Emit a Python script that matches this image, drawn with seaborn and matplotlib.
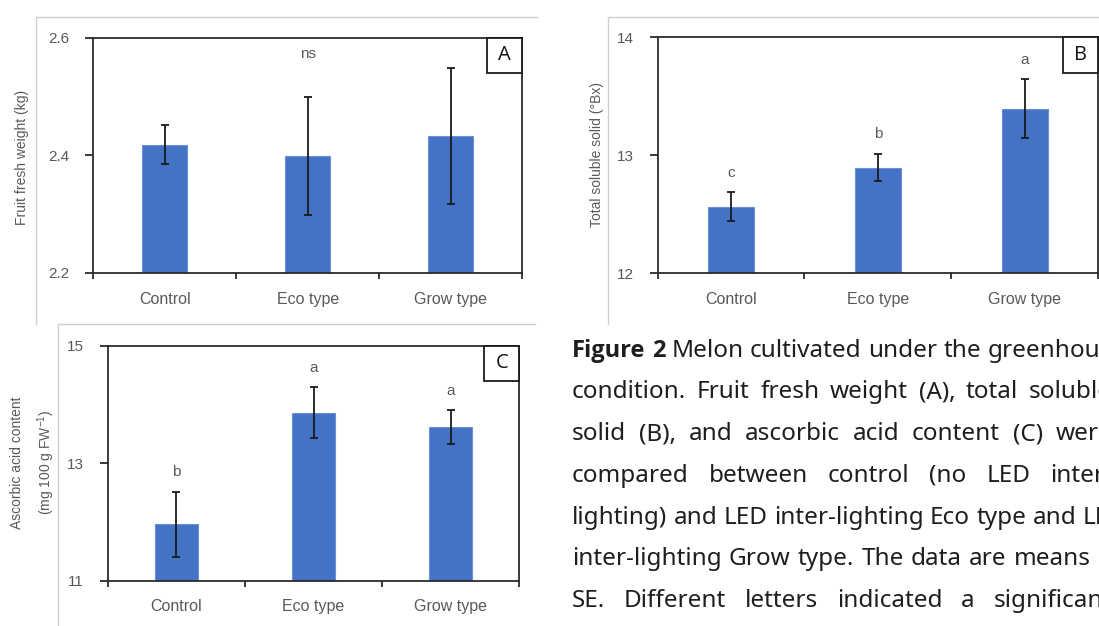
import matplotlib
matplotlib.use("Agg")
import matplotlib.pyplot as plt
import seaborn as sns
import pandas as pd
from matplotlib.lines import Line2D
from matplotlib.patches import Rectangle

# ---- data -------------------------------------------------------------
categories = ["Control", "Eco type", "Grow type"]

weight_mean = [2.418, 2.399, 2.433]
weight_se = [0.033, 0.100, 0.116]

tss_mean = [12.565, 12.895, 13.395]
tss_se = [0.122, 0.117, 0.250]
tss_letters = ["c", "b", "a"]

aa_mean = [11.96, 13.86, 13.61]
aa_se = [0.555, 0.430, 0.290]
aa_letters = ["b", "a", "a"]

caption_lines = [
    "Figure 2 Melon cultivated under the greenhouse",
    "condition. Fruit fresh weight (A), total soluble",
    "solid (B), and ascorbic acid content (C) were",
    "compared between control (no LED inter-",
    "lighting) and LED inter-lighting Eco type and LED",
    "inter-lighting Grow type. The data are means \u00b1",
    "SE. Different letters indicated a significant",
]

# ---- style ------------------------------------------------------------
sns.set_theme(style="white")
plt.rcParams["font.family"] = ["Liberation Sans", "DejaVu Sans"]
plt.rcParams["mathtext.fontset"] = "custom"
plt.rcParams["mathtext.rm"] = "Liberation Sans"
plt.rcParams["mathtext.it"] = "Liberation Sans:italic"

BAR = "#4472C4"
EDGE = "#6b8fd6"
GREY_TXT = "#595959"
SPINE = "#2b2b2b"
FRAME = "#cfcfcf"

W, H = 1099, 626
fig = plt.figure(figsize=(W / 100, H / 100), dpi=100)
fig.patch.set_facecolor("white")


def px_rect(x0, y0, x1, y1):
    return [x0 / W, 1 - y1 / H, (x1 - x0) / W, (y1 - y0) / H]


def fx(x):
    return x / W


def fy(y):
    return 1 - y / H


def draw_panel(ax, box, means, ses, ylim, yticks, fmt, tag, letters=None):
    df = pd.DataFrame({"treatment": categories, "value": means})
    sns.barplot(data=df, x="treatment", y="value", color=BAR, width=0.313,
                errorbar=None, edgecolor=EDGE, linewidth=0.8, saturation=1,
                ax=ax, zorder=2)
    ax.errorbar(range(len(categories)), means, yerr=ses, fmt="none",
                ecolor="#1a1a1a", elinewidth=1.3, capsize=3, capthick=1.3,
                zorder=3)
    ax.set_xlim(-0.5, len(categories) - 0.5)
    ax.set_ylim(*ylim)
    ax.set_yticks(yticks)
    ax.set_yticklabels([fmt.format(v) for v in yticks])
    ax.set_xlabel("")
    ax.set_ylabel("")

    # boundary ticks between categories, labels centred on the bars
    ax.set_xticks([i - 0.5 for i in range(len(categories) + 1)])
    ax.set_xticklabels([])
    ax.set_xticks(range(len(categories)), minor=True)
    ax.set_xticklabels(categories, minor=True)
    ax.tick_params(axis="x", which="major", direction="out", length=4.3,
                   width=1.3, color=SPINE, bottom=True)
    ax.tick_params(axis="x", which="minor", length=0, pad=13.5,
                   labelsize=11.5, labelcolor=GREY_TXT, bottom=True)
    ax.tick_params(axis="y", direction="out", length=5.5, width=1.3,
                   color=SPINE, pad=12, labelsize=11, labelcolor=GREY_TXT,
                   left=True)
    for s in ax.spines.values():
        s.set_visible(True)
        s.set_color(SPINE)
        s.set_linewidth(1.3)
    ax.grid(False)

    if letters:
        for i, (m, s, lt) in enumerate(zip(means, ses, letters)):
            ax.annotate(lt, xy=(i, m + s), xytext=(0, 14),
                        textcoords="offset points", ha="center", va="center",
                        fontsize=11, color=GREY_TXT)

    # panel tag in the upper-right corner
    axw = (box[2] - box[0])
    axh = (box[3] - box[1])
    bw, bh = 35 / axw, 35.5 / axh
    ax.add_patch(Rectangle((1 - bw, 1 - bh), bw, bh, transform=ax.transAxes,
                           facecolor="white", edgecolor="#1a1a1a", lw=1.3,
                           zorder=6, clip_on=False))
    ax.text(1 - bw / 2, 1 - bh / 2, tag, transform=ax.transAxes, ha="center",
            va="center", fontsize=14.5, color="#111111", zorder=7,
            family=["Open Sans", "DejaVu Sans"])


# ---- panel frames (light grey boxes around each chart) -----------------
frame_segments = [
    ((36, 16.7), (36, 324)), ((36, 16.7), (537, 16.7)),
    ((608, 16.7), (608, 324)), ((608, 16.7), (1099, 16.7)),
    ((57.7, 324.3), (57.7, 626)), ((57.7, 324.3), (535, 324.3)),
]
for (x0, y0), (x1, y1) in frame_segments:
    fig.add_artist(Line2D([fx(x0), fx(x1)], [fy(y0), fy(y1)], color=FRAME,
                          lw=1.0, transform=fig.transFigure))

# ---- panels -----------------------------------------------------------
boxA = (93.3, 37.5, 522.3, 273.0)
boxB = (657.7, 37.3, 1098.0, 273.3)
boxC = (107.7, 345.5, 519.3, 580.7)

axA = fig.add_axes(px_rect(*boxA))
draw_panel(axA, boxA, weight_mean, weight_se, (2.2, 2.6), [2.2, 2.4, 2.6],
           "{:.1f}", "A")
axA.text(1, 0.93, "ns", transform=axA.get_xaxis_transform(), ha="center",
         va="center", fontsize=11, color=GREY_TXT)

axB = fig.add_axes(px_rect(*boxB))
draw_panel(axB, boxB, tss_mean, tss_se, (12, 14), [12, 13, 14], "{:.0f}",
           "B", tss_letters)

axC = fig.add_axes(px_rect(*boxC))
draw_panel(axC, boxC, aa_mean, aa_se, (11, 15), [11, 13, 15], "{:.0f}",
           "C", aa_letters)

# y-axis titles
fig.text(fx(22), fy(157), "Fruit fresh weight (kg)", rotation=90,
         ha="center", va="center", fontsize=10, color=GREY_TXT)
fig.text(fx(597), fy(155), "Total soluble solid (\u00b0Bx)", rotation=90,
         ha="center", va="center", fontsize=10, color=GREY_TXT)
fig.text(fx(17.5), fy(462.5), "Ascorbic acid content", rotation=90,
         ha="center", va="center", fontsize=10, color=GREY_TXT)
fig.text(fx(46), fy(462.5), "(mg 100 g FW$^{-1}$)", rotation=90,
         ha="center", va="center", fontsize=10, color=GREY_TXT)

# ---- justified caption -------------------------------------------------
cap_left, cap_right = 572, 1112
baseline0, line_step = 356.7, 41.7
cap_font = ["Noto Sans", "DejaVu Sans"]
bold_font = ["Open Sans", "Lato", "DejaVu Sans"]
cap_size = 17.5
renderer = fig.canvas.get_renderer()


def text_width(s, **kw):
    t = fig.text(0, 0, s, fontsize=cap_size, family=cap_font, **kw)
    w = t.get_window_extent(renderer).width
    t.remove()
    return w


natural_gap = text_width("a a") - 2 * text_width("a")

for k, line in enumerate(caption_lines):
    words = line.split(" ")
    texts = []
    for j, wd in enumerate(words):
        bold = (k == 0 and j < 2)
        t = fig.text(0, fy(baseline0 + k * line_step), wd, ha="left",
                     va="baseline", color="#1e1e1e",
                     fontsize=cap_size - 0.5 if bold else cap_size,
                     family=bold_font if bold else cap_font,
                     fontweight="bold" if bold else "normal")
        texts.append(t)
    widths = [t.get_window_extent(renderer).width for t in texts]
    gap = (cap_right - cap_left - sum(widths)) / max(len(words) - 1, 1)
    gap = max(gap, natural_gap)
    x = cap_left
    for t, w in zip(texts, widths):
        t.set_x(fx(x))
        x += w + gap

fig.savefig("out.png", dpi=100, facecolor="white")
